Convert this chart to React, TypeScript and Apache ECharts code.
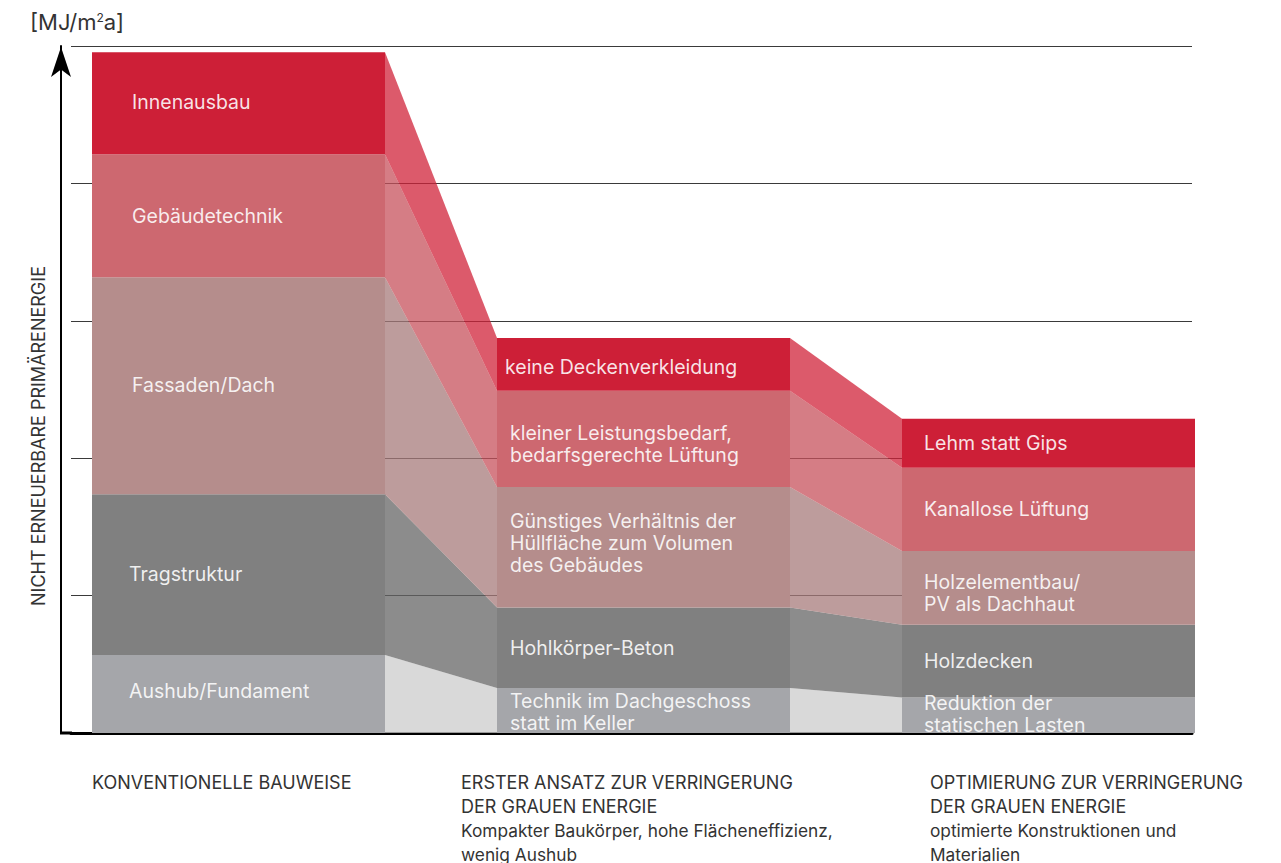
import React, { useEffect, useRef } from "react";
import * as echarts from "echarts";

// ---- data (values in an arbitrary energy unit, axis 0..100) ----
const scenarioTitles = [
  "KONVENTIONELLE BAUWEISE",
  "ERSTER ANSATZ ZUR VERRINGERUNG\nDER GRAUEN ENERGIE",
  "OPTIMIERUNG ZUR VERRINGERUNG\nDER GRAUEN ENERGIE",
];
const scenarioSubtitles = [
  "",
  "Kompakter Baukörper, hohe Flächeneffizienz,\nwenig Aushub",
  "optimierte Konstruktionen und\nMaterialien",
];
const layerNames = ["Aushub/Fundament", "Tragstruktur", "Fassaden/Dach", "Gebäudetechnik", "Innenausbau"];
const aushub = [11.35, 6.55, 5.15];
const tragstruktur = [23.4, 11.7, 10.6];
const fassaden = [31.6, 17.55, 10.75];
const gebaeudetechnik = [17.9, 14.0, 12.1];
const innenausbau = [14.85, 7.7, 7.15];
const labelsAushub = ["Aushub/Fundament", "Technik im Dachgeschoss\nstatt im Keller", "Reduktion der\nstatischen Lasten"];
const labelsTrag = ["Tragstruktur", "Hohlkörper-Beton", "Holzdecken"];
const labelsFassaden = ["Fassaden/Dach", "Günstiges Verhältnis der\nHüllfläche zum Volumen\ndes Gebäudes", "Holzelementbau/\nPV als Dachhaut"];
const labelsGebaeude = ["Gebäudetechnik", "kleiner Leistungsbedarf,\nbedarfsgerechte Lüftung", "Kanallose Lüftung"];
const labelsInnen = ["Innenausbau", "keine Deckenverkleidung", "Lehm statt Gips"];
const yTicks = [0, 20, 40, 60, 80, 100];
const yAxisTitle = "NICHT ERNEUERBARE PRIMÄRENERGIE";

// ---- styles ----
const layerValues = [aushub, tragstruktur, fassaden, gebaeudetechnik, innenausbau];
const layerLabels = [labelsAushub, labelsTrag, labelsFassaden, labelsGebaeude, labelsInnen];
const barColors = ["#a5a6aa", "#808080", "#b58d8c", "#cd6870", "#cd1f37"];
const bandColors = [
  "rgba(204,204,204,0.75)",
  "rgba(102,102,102,0.75)",
  "rgba(167,123,123,0.75)",
  "rgba(199,82,92,0.75)",
  "rgba(208,35,58,0.75)",
];
const labelInset = [
  [37, 13, 22],
  [37, 13, 22],
  [40, 13, 22],
  [40, 13, 22],
  [40, 8, 22],
];
const labelNudge = [
  [-3, 1, -1],
  [-1, 0, 0],
  [-1, -4, 5],
  [0, 5, 0],
  [-1, 3, 0],
];
const BAR_WIDTH = 293;
const FONT = "Inter, 'Noto Sans', sans-serif";

export default function App() {
  const ref = useRef<HTMLDivElement>(null);
  useEffect(() => {
    if (!ref.current) return;
    const chart = echarts.init(ref.current, null, { renderer: "svg" });

    const cum = (li: number, j: number) => {
      let s = 0;
      for (let k = 0; k < li; k++) s += layerValues[k][j];
      return s;
    };

    const barData: number[][] = [];
    const bandData: number[][] = [];
    for (let li = 0; li < layerValues.length; li++) {
      for (let j = 0; j < aushub.length; j++) barData.push([li, j]);
      for (let g = 0; g < aushub.length - 1; g++) bandData.push([li, g]);
    }

    const barSeries = {
      type: "custom",
      name: "Schichten",
      z: 3,
      silent: true,
      data: barData,
      renderItem: (params: any, api: any) => {
        const li = api.value(0);
        const j = api.value(1);
        const bottom = cum(li, j);
        const top = bottom + layerValues[li][j];
        const pT = api.coord([j, top]);
        const pB = api.coord([j, bottom]);
        const left = pT[0] - BAR_WIDTH / 2;
        return {
          type: "rect",
          shape: { x: left, y: pT[1], width: BAR_WIDTH, height: pB[1] - pT[1] },
          style: { fill: barColors[li] },
        };
      },
    };

    const labelSeries = {
      type: "custom",
      name: "Beschriftung",
      z: 5,
      silent: true,
      data: barData,
      renderItem: (params: any, api: any) => {
        const li = api.value(0);
        const j = api.value(1);
        const bottom = cum(li, j);
        const top = bottom + layerValues[li][j];
        const pT = api.coord([j, top]);
        const pB = api.coord([j, bottom]);
        const left = pT[0] - BAR_WIDTH / 2;
        return {
          type: "text",
          x: left + labelInset[li][j],
          y: (pT[1] + pB[1]) / 2 + labelNudge[li][j],
          style: {
            text: layerLabels[li][j],
            fill: "rgba(255,255,255,0.88)",
            fontFamily: FONT,
            fontSize: 19.5,
            lineHeight: 22,
            align: "left",
            verticalAlign: "middle",
          },
        };
      },
    };

    const bandSeries = {
      type: "custom",
      name: "Übergänge",
      z: 2,
      silent: true,
      data: bandData,
      renderItem: (params: any, api: any) => {
        const li = api.value(0);
        const g = api.value(1);
        const hw = BAR_WIDTH / 2;
        const b1 = cum(li, g);
        const t1 = b1 + layerValues[li][g];
        const b2 = cum(li, g + 1);
        const t2 = b2 + layerValues[li][g + 1];
        const pT1 = api.coord([g, t1]);
        const pB1 = api.coord([g, b1]);
        const pT2 = api.coord([g + 1, t2]);
        const pB2 = api.coord([g + 1, b2]);
        return {
          type: "polygon",
          shape: {
            points: [
              [pT1[0] + hw, pT1[1]],
              [pT2[0] - hw, pT2[1]],
              [pB2[0] - hw, pB2[1]],
              [pB1[0] + hw, pB1[1]],
            ],
          },
          style: { fill: bandColors[li] },
        };
      },
    };

    chart.setOption({
      animation: false,
      textStyle: { fontFamily: FONT },
      grid: { left: 71, right: 89, top: 46, bottom: 130, containLabel: false },
      xAxis: {
        type: "value",
        min: -0.41358,
        max: 2.35432,
        axisLine: { show: true, onZero: false, lineStyle: { color: "#000", width: 3 } },
        axisTick: { show: false },
        axisLabel: { show: false },
        splitLine: { show: false },
      },
      yAxis: {
        type: "value",
        min: yTicks[0],
        max: yTicks[yTicks.length - 1],
        interval: yTicks[1] - yTicks[0],
        offset: 10,
        axisLine: {
          show: true,
          onZero: false,
          lineStyle: { color: "#000", width: 2 },
          symbol: ["none", "arrow"],
          symbolSize: [15, 30],
          symbolOffset: [0, -1],
        },
        axisTick: { show: false },
        axisLabel: { show: false },
        splitLine: { show: true, lineStyle: { color: "#3a3a3a", width: 1 } },
      },
      graphic: [
        { type: "line", shape: { x1: 60, y1: 733, x2: 72, y2: 733 }, style: { stroke: "#000", lineWidth: 3 } },
        {
          type: "text",
          x: 30,
          y: 22,
          style: {
            text: "{a|[MJ/m}{s|2}{a|a]}",
            verticalAlign: "middle",
            rich: {
              a: { fontFamily: FONT, fontSize: 22, fill: "#333" },
              s: { fontFamily: FONT, fontSize: 12, fill: "#333", verticalAlign: "top", padding: [0, 0, 8, 0] },
            },
          },
        },
        {
          type: "text",
          x: 38,
          y: 436,
          rotation: Math.PI / 2,
          style: {
            text: yAxisTitle,
            align: "center",
            verticalAlign: "middle",
            fontFamily: FONT,
            fontSize: 18,
            fill: "#333",
          },
        },
        ...scenarioTitles.map((t, i) => ({
          type: "text",
          x: [92, 461, 930][i],
          y: 770,
          style: {
            text: t,
            align: "left",
            verticalAlign: "top",
            fontFamily: FONT,
            fontSize: 18,
            lineHeight: 24,
            fill: "#333",
          },
        })),
        ...scenarioSubtitles.map((t, i) => ({
          type: "text",
          x: [92, 461, 930][i],
          y: 818,
          style: {
            text: t,
            align: "left",
            verticalAlign: "top",
            fontFamily: FONT,
            fontSize: 17.3,
            lineHeight: 24,
            fill: "#333",
          },
        })),
      ],
      series: [bandSeries, barSeries, labelSeries],
    });

    return () => chart.dispose();
  }, []);

  return <div ref={ref} style={{ position: "absolute", left: 0, top: 0, width: 1281, height: 863 }} />;
}
